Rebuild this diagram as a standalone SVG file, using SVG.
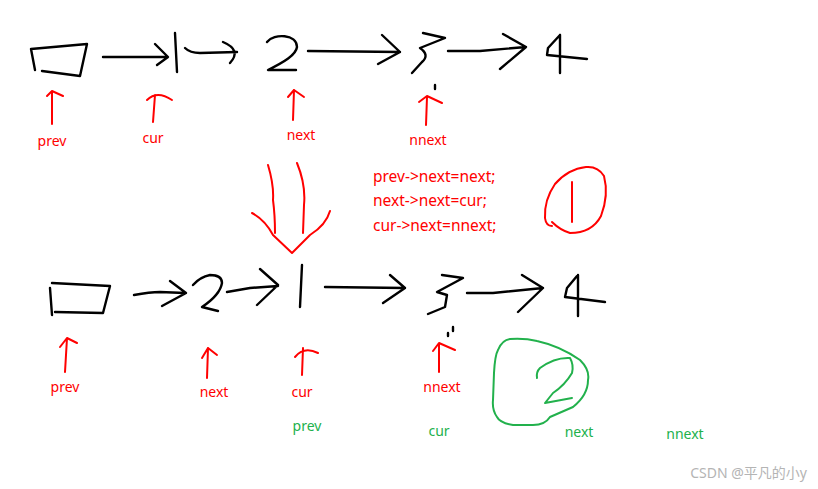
<svg xmlns="http://www.w3.org/2000/svg" width="818" height="489" viewBox="0 0 818 489">
<style>
.k{fill:none;stroke:#000;stroke-width:2.4;stroke-linecap:round;stroke-linejoin:round}
.r{fill:none;stroke:#f00;stroke-width:2;stroke-linecap:round;stroke-linejoin:round}
.g{fill:none;stroke:#22b14c;stroke-width:2;stroke-linecap:round;stroke-linejoin:round}
text{font-family:"Noto Sans","Liberation Sans",sans-serif;font-size:14px}
.tr{fill:#f00;text-anchor:middle}
.tg{fill:#22b14c;text-anchor:middle}
.code{fill:#f00;font-size:15.5px}
</style>
<rect width="818" height="489" fill="#fff"/>
<g id="row1">
<path class="k" d="M31,49 L87,44 L80,76 L42,71 M31,49 L35,70"/>
<path class="k" d="M175,33 L177,72"/>
<path class="k" d="M267,42 C274,33 297,34 297,47 C296,55 284,62 268,70 L296,70"/>
<path class="k" d="M423,33 L445,38 L420,48 Q430,55 422,62 L412,73"/>
<path class="k" d="M560,35 L560,73 M560,35 L548,48 L547,55 L587,59"/>
<path class="k" d="M435,85 L435,89"/>
</g>
<g id="connectors">
<path class="k" d="M103,57 L167,57 M155,44 L168,57 L157,65"/>
<path class="k" d="M185,48 Q190,53 200,53 L237,52 M223,42 Q242,50 230,63"/>
<path class="k" d="M308,51 L400,52 M382,35 L400,52 L378,64"/>
<path class="k" d="M448,51 L480,51 L526,47 M503,34 L526,47 L500,69"/>
<path class="k" d="M134,295 Q150,292 160,292 L185,293 M170,281 L186,293 L162,306"/>
<path class="k" d="M227,292 L250,288 L278,286 M260,269 L278,285 L257,305"/>
<path class="k" d="M325,287 L405,288 M390,275 L405,288 L383,303"/>
<path class="k" d="M467,293 L493,293 L543,288 M522,275 L543,288 L518,312"/>
</g>
<g id="pointers1">
<path class="r" d="M52,124 L52,92 M47,96 L52,91 L63,96"/>
<path class="r" d="M153,122 L155,95 M147,100 Q157,90 172,100"/>
<path class="r" d="M293,120 L294,90 M288,97 L294,90 L304,97"/>
<path class="r" d="M426,125 L427,97 M419,102 L427,96 L442,103"/>
<text class="tr" x="52" y="146">prev</text>
<text class="tr" x="153" y="143">cur</text>
<text class="tr" x="301" y="140">next</text>
<text class="tr" x="428" y="145">nnext</text>
</g>
<g id="bigarrow">
<path class="r" d="M268,165 Q274,185 273,200 Q275,215 275,233 M297,163 Q306,185 304,205 L303,233 M252,213 Q265,220 273,235 L292,253 L310,235 Q326,225 330,211"/>
</g>
<g id="code">
<text class="code" x="373" y="182">prev-&gt;next=next;</text>
<text class="code" x="373" y="206">next-&gt;next=cur;</text>
<text class="code" x="373" y="231">cur-&gt;next=nnext;</text>
</g>
<g id="step1">
<path class="r" d="M552,222 Q560,230 570,233 Q592,233 601,216 Q609,195 604,176 Q598,166 586,167 Q568,169 555,184 Q544,200 545,218 Q546,226 552,226"/>
<path class="r" d="M572,182 L572,222"/>
</g>
<g id="row2">
<path class="k" d="M52,283 L110,286 L103,313 L55,312 M50,288 L52,315"/>
<path class="k" d="M193,285 Q200,277 210,275 Q222,275 222,283 Q220,295 202,307 L218,311"/>
<path class="k" d="M302,265 L300,307"/>
<path class="k" d="M442,275 L463,278 L437,292 L447,295 L445,307 L428,314"/>
<path class="k" d="M578,275 L578,316 M577,276 L567,288 L565,297 L605,302"/>
<path class="k" d="M453,327 L453,331 M448,333 L448,336"/>
</g>
<g id="pointers2">
<path class="r" d="M65,372 L67,338 M60,347 L67,338 L77,343"/>
<path class="r" d="M207,378 L208,348 M202,358 L208,348 L217,355"/>
<path class="r" d="M302,375 L303,348 M295,357 Q304,346 318,353"/>
<path class="r" d="M439,372 L439,344 M433,351 L439,343 L455,350"/>
<text class="tr" x="65" y="392">prev</text>
<text class="tr" x="214" y="397">next</text>
<text class="tr" x="302" y="397">cur</text>
<text class="tr" x="442" y="392">nnext</text>
</g>
<g id="step2">
<path class="g" d="M510,339 Q525,338 537,341 Q560,346 580,360 Q590,370 588,380 Q588,395 573,407 L550,417 Q545,425 533,425 L513,425 Q500,423 497,417 Q492,410 493,400 L494,373 Q495,355 498,350 Q502,340 510,339 Z"/>
<path class="g" d="M537,378 Q536,372 540,368 Q555,357 570,358 Q574,365 572,373 Q565,385 553,393 L545,403 L572,398"/>
<text class="tg" x="307" y="431">prev</text>
<text class="tg" x="439" y="436">cur</text>
<text class="tg" x="579" y="437">next</text>
<text class="tg" x="685" y="439">nnext</text>
</g>
<text x="807" y="478" style="fill:#b4b4b4;font-size:14px;text-anchor:end;font-family:'Noto Sans','Noto Sans CJK SC',sans-serif">CSDN @平凡的小y</text>
</svg>
